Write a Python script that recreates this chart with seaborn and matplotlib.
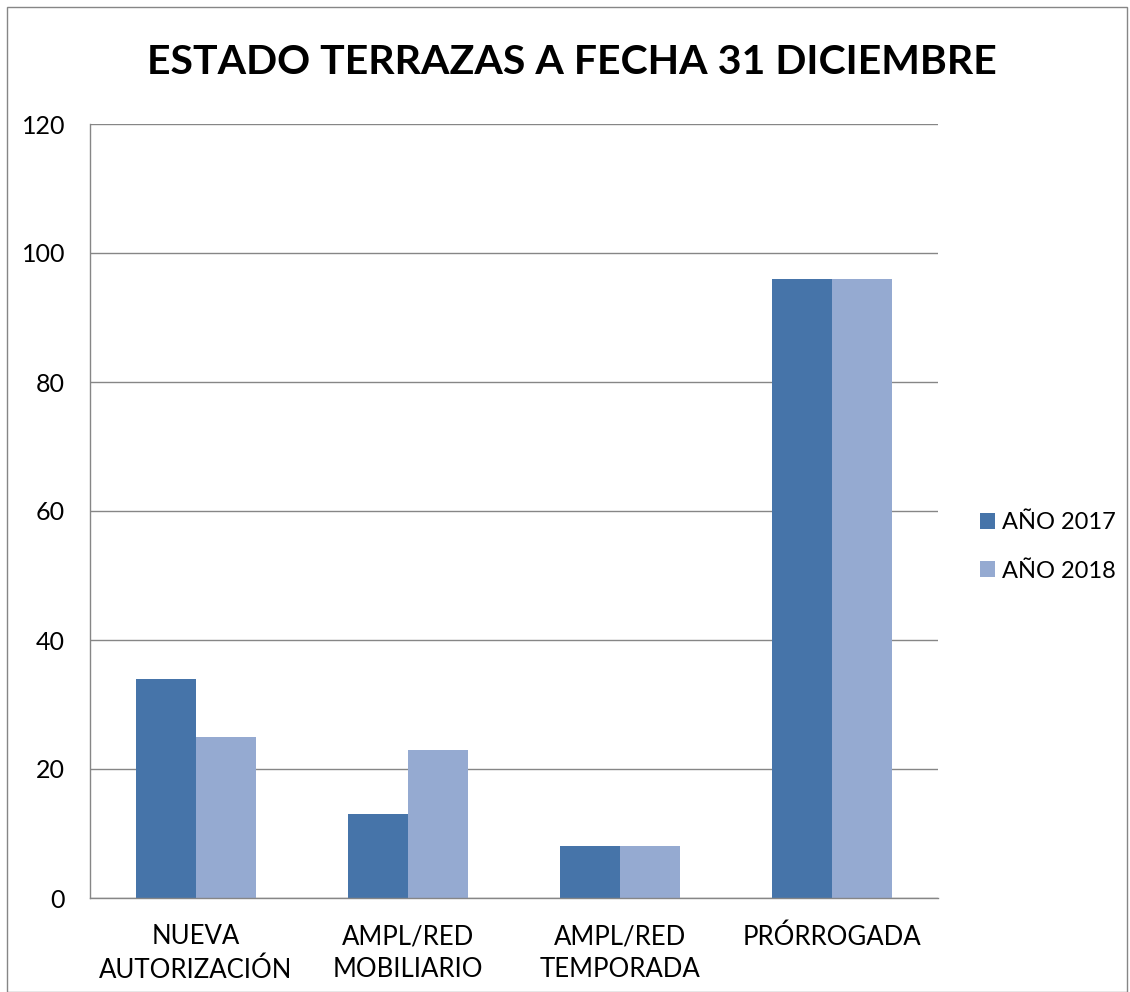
import matplotlib
matplotlib.use("Agg")
import matplotlib.pyplot as plt
import seaborn as sns
import pandas as pd
from matplotlib.patches import Rectangle

categories = ["NUEVA\nAUTORIZACIÓN", "AMPL/RED\nMOBILIARIO", "AMPL/RED\nTEMPORADA", "PRÓRROGADA"]
series_names = ["AÑO 2017", "AÑO 2018"]
values_2017 = [34, 13, 8, 96]
values_2018 = [25, 23, 8, 96]
y_ticks = [0, 20, 40, 60, 80, 100, 120]
title = "ESTADO TERRAZAS A FECHA 31 DICIEMBRE"
colors = ["#4674A9", "#95AAD1"]

df = pd.DataFrame({
    "cat": categories * 2,
    "serie": [series_names[0]] * 4 + [series_names[1]] * 4,
    "val": values_2017 + values_2018,
})

sns.set_style("white")
plt.rcParams["font.family"] = ["Lato", "DejaVu Sans"]
plt.rcParams["text.color"] = "black"
plt.rcParams["xtick.color"] = "black"
plt.rcParams["ytick.color"] = "black"

fig = plt.figure(figsize=(11.3, 9.92), dpi=100)
ax = fig.add_axes([90/1130, 1-898/992, (938-90)/1130, (898-124)/992])

sns.barplot(data=df, x="cat", y="val", hue="serie", palette=colors,
            width=0.57, saturation=1, ax=ax, order=categories, hue_order=series_names,
            edgecolor="none", linewidth=0, legend=True)

ax.set_ylim(0, 120)
ax.set_xlim(-0.5, 3.5)
ax.set_yticks(y_ticks)
ax.set_yticklabels([str(t) for t in y_ticks], fontsize=18)
ax.tick_params(axis="x", labelsize=18.5, length=0, pad=19, labelcolor="black")
ax.tick_params(axis="y", length=0, pad=18, labelcolor="black")
for lab in ax.get_xticklabels():
    lab.set_multialignment("center")
    lab.set_linespacing(1.4)
ax.set_xlabel("")
ax.set_ylabel("")
ax.yaxis.grid(True, color="#868686", linewidth=1)
ax.set_axisbelow(True)
for s in ["top", "right"]:
    ax.spines[s].set_visible(False)
for s in ["left", "bottom"]:
    ax.spines[s].set_color("#868686")
    ax.spines[s].set_linewidth(1)

leg = ax.legend(loc="center left", bbox_to_anchor=(980/1130, 1-547/992),
                bbox_transform=fig.transFigure, frameon=False, fontsize=17,
                borderpad=0, borderaxespad=0,
                handlelength=0.65, handleheight=0.65, handletextpad=0.3, labelspacing=1.15)

fig.text(572/1130, 1-63/992, title, ha="center", va="center", fontsize=29.5,
         fontweight="bold", color="black")

fig.patches.append(Rectangle((7/1130, 0), 1120/1130, 1-7/992, transform=fig.transFigure,
                             fill=False, edgecolor="#868686", linewidth=1))

fig.savefig("out.png", dpi=100)
